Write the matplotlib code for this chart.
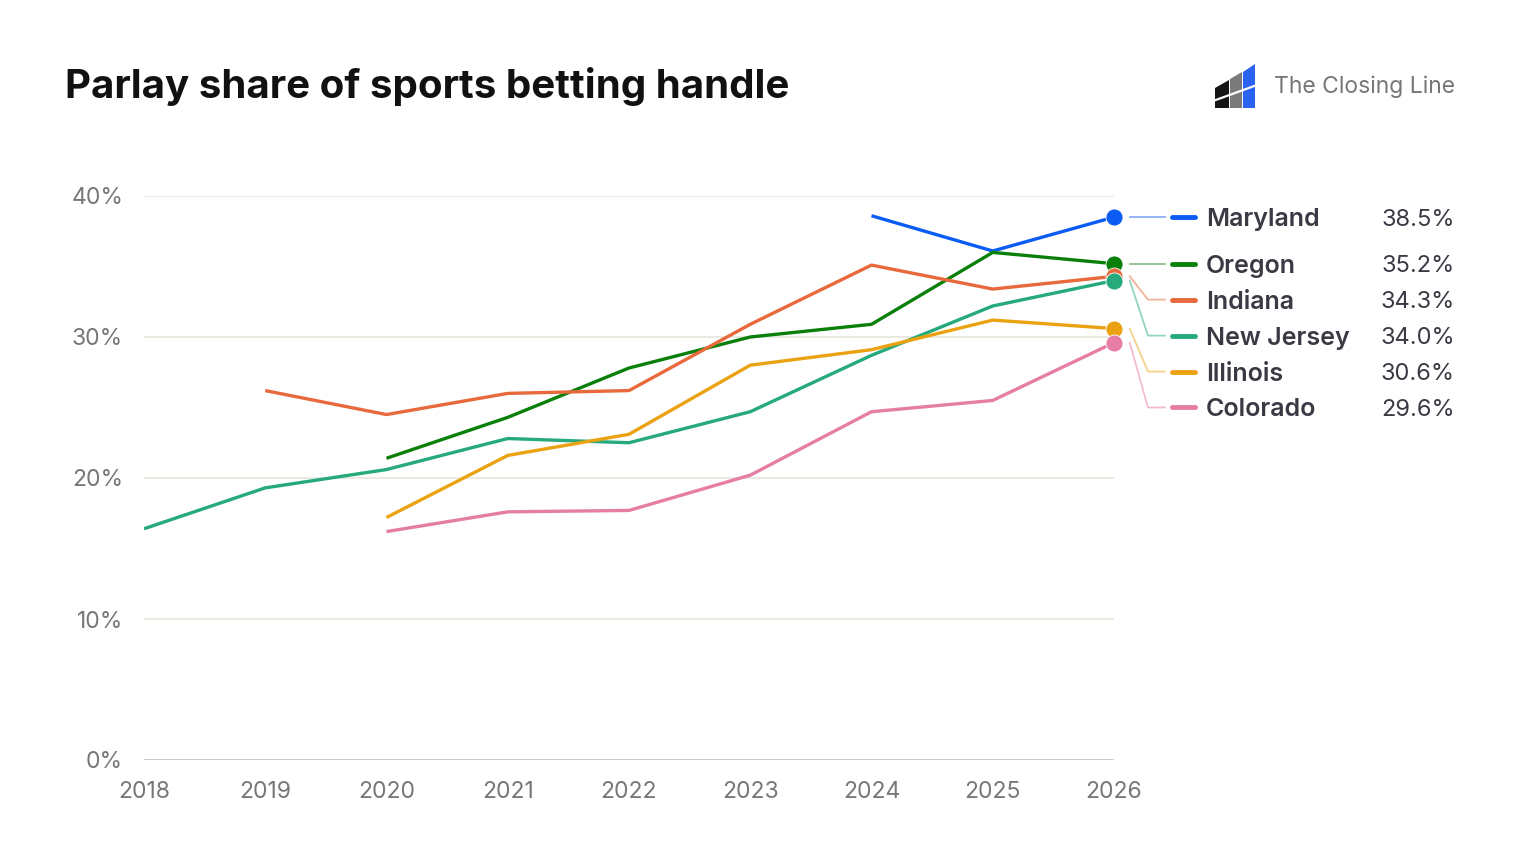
import numpy as np
import matplotlib.pyplot as plt
from matplotlib.patches import Polygon

years = [2018, 2019, 2020, 2021, 2022, 2023, 2024, 2025, 2026]

# parlay share (%) by state, None where no data
maryland = [None, None, None, None, None, None, 38.6, 36.1, 38.5]
oregon = [None, None, 21.4, 24.3, 27.8, 30.0, 30.9, 36.0, 35.2]
indiana = [None, 26.2, 24.5, 26.0, 26.2, 30.9, 35.1, 33.4, 34.3]
new_jersey = [16.4, 19.3, 20.6, 22.8, 22.5, 24.7, 28.7, 32.2, 34.0]
illinois = [None, None, 17.2, 21.6, 23.1, 28.0, 29.1, 31.2, 30.6]
colorado = [None, None, 16.2, 17.6, 17.7, 20.2, 24.7, 25.5, 29.6]

states = ["Maryland", "Oregon", "Indiana", "New Jersey", "Illinois", "Colorado"]
series = [maryland, oregon, indiana, new_jersey, illinois, colorado]
colors = ["#0b5cf5", "#0a800a", "#e8693c", "#26aa7c", "#eba212", "#e57da5"]
light = ["#8fb0f5", "#8cc48c", "#f2b39a", "#92d6bd", "#f5d28c", "#f2bcd0"]

yticks = [0, 10, 20, 30, 40]

plt.rcParams['font.family'] = ['Inter', 'DejaVu Sans']

fig = plt.figure(figsize=(15.2, 8.68), dpi=100)
ax = fig.add_axes([144 / 1520, 1 - 760 / 868, 970 / 1520, 564 / 868])

for vals, c in zip(series, colors):
    y = np.array([np.nan if v is None else v for v in vals], dtype=float)
    ax.plot(years, y, color=c, lw=2.4, solid_capstyle='butt', zorder=3)
    ax.scatter([years[-1]], [y[-1]], s=150, color=c, zorder=4,
               edgecolors='white', linewidths=0.6, clip_on=False)

ax.set_xlim(2018, 2026)
ax.set_ylim(0, 40)
ax.set_yticks(yticks)
ax.set_yticklabels([f"{t}%" for t in yticks])
ax.set_xticks(years)
for t in yticks[1:]:
    ax.axhline(t, color="#e6e6de", lw=1.2, zorder=1)
ax.axhline(0, color="#c8c8c4", lw=1.3, zorder=1)
for s in ax.spines.values():
    s.set_visible(False)
ax.tick_params(length=0, labelsize=16.5, colors="#777777")
ax.tick_params(axis='y', pad=15)
ax.tick_params(axis='x', pad=15)

# end labels with simple repel
ends = [vals[-1] for vals in series]
order = np.argsort(ends)[::-1]
lab_y = {}
prev = None
for i in order:
    y = ends[i]
    if prev is not None and y > prev - 2.55:
        y = prev - 2.55
    lab_y[i] = y
    prev = y

x0 = years[-1]
for i in range(len(states)):
    yd, yl = ends[i], lab_y[i]
    ax.plot([x0 + 0.13, x0 + 0.28, x0 + 0.42], [yd, yl, yl], color=light[i],
            lw=1.3, clip_on=False, zorder=2)
    ax.plot([x0 + 0.48, x0 + 0.67], [yl, yl], color=colors[i], lw=3.5,
            solid_capstyle='round', clip_on=False)
    ax.text(x0 + 0.76, yl, states[i], fontsize=18, fontweight='semibold',
            color="#3a3a44", va='center_baseline', ha='left')
    ax.text(x0 + 2.81, yl, f"{ends[i]:.1f}%", fontsize=17,
            color="#3a3a44", va='center_baseline', ha='right')

fig.text(65 / 1520, 1 - 86 / 868, "Parlay share of sports betting handle",
         fontsize=29, fontweight='bold', color="#111111", va='center', ha='left')
fig.text(1274 / 1520, 1 - 87 / 868, "The Closing Line", fontsize=16.5,
         color="#777777", va='center', ha='left')


# logo: three slanted bars
def px(x, y):
    return (x / 1520, 1 - y / 868)


bars = [
    ("#151515", [(1215, 108), (1215, 88), (1229, 80), (1229, 108)]),
    ("#7a7a7a", [(1230, 108), (1230, 79), (1242, 72), (1242, 108)]),
    ("#2a62f2", [(1243, 108), (1243, 72), (1255, 64), (1255, 108)]),
]
for c, pts in bars:
    fig.patches.append(Polygon([px(*p) for p in pts], closed=True,
                               transform=fig.transFigure, facecolor=c,
                               edgecolor='none'))
fig.lines.append(plt.Line2D([1213 / 1520, 1257 / 1520],
                            [1 - 101 / 868, 1 - 85 / 868],
                            transform=fig.transFigure, color='white', lw=1.6))

fig.savefig("out.png", dpi=100, facecolor='white')
